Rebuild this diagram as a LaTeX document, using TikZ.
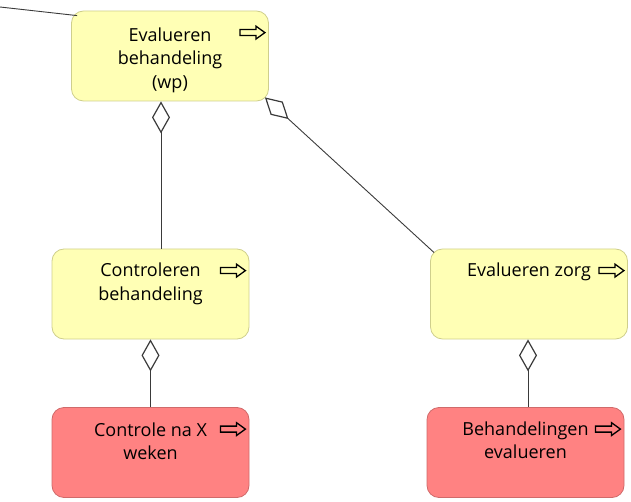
\documentclass[tikz,border=0pt]{standalone}
\usepackage{fontspec}
\setmainfont{Open Sans}
\usetikzlibrary{arrows.meta,calc}
\definecolor{bizfill}{HTML}{FFFFB5}
\definecolor{bizline}{HTML}{CFCF8C}
\definecolor{redfill}{HTML}{FF8282}
\definecolor{redline}{HTML}{D06A6A}
\definecolor{linegray}{HTML}{3A3A3A}
\begin{document}
\begin{tikzpicture}[x=1pt,y=-1pt,
  elembox/.style={rounded corners=12pt, minimum width=197pt, minimum height=90pt,
    inner sep=0pt, line width=0.8pt},
  yellowbox/.style={elembox, draw=bizline, fill=bizfill},
  redbox/.style={elembox, draw=redline, fill=redfill},
  boxtext/.style={anchor=north, align=center, inner sep=0pt,
    font=\fontsize{18}{23.5}\selectfont},
  conn/.style={draw=linegray, line width=0.9pt},
  agg/.style={conn, {Diamond[open, length=32pt, width=18pt, line width=1.2pt]}-},
  procicon/.pic={
    \draw[line width=1.3pt, line join=miter]
      (0,0) -- (-9,-6.5) -- (-9,-3) -- (-25,-3) -- (-25,3) -- (-9,3) -- (-9,6.5) -- cycle;
  }]
\useasboundingbox (0,0) rectangle (631,502);

% elements
\node[yellowbox] (top)  at (170,56)      {};
\node[yellowbox] (ctrl) at (150.5,294)   {};
\node[yellowbox] (zorg) at (529,294)     {};
\node[redbox]    (ctlx) at (150.5,452.5) {};
\node[redbox]    (beh)  at (525.5,452.5) {};

% names (first baseline about 30pt below the top edge)
\node[boxtext] (topt)  at ($(top.north)+(0,17)$)  {Evalueren\\behandeling\\(wp)};
\node[boxtext] (ctrlt) at ($(ctrl.north)+(0,14.5)$) {Controleren\\behandeling};
\node[boxtext] (zorgt) at ($(zorg.north)+(0,14.5)$) {Evalueren zorg};
\node[boxtext] (ctlxt) at ($(ctlx.north)+(0,15.5)$) {Controle na X\\weken};
\node[boxtext] (beht)  at ($(beh.north)+(0,14.5)$)  {Behandelingen\\evalueren};

% process icons
\foreach \b in {top,ctrl,zorg,ctlx,beh}
  \pic at ($(\b.north east)+(-4,22)$) {procicon};

% relations
\coordinate (ext) at (0,7);
\draw[conn] (ext) -- ($(top.north west)+(6,5)$);

\coordinate (a1) at ($(top.south)+(-9,0)$);
\draw[agg] (a1) -- (a1 |- ctrl.north);

\coordinate (d1) at ($(top.south east)+(-4,-4)$);
\coordinate (d2) at ($(zorg.north west)+(4,4)$);
\draw[agg] (d1) -- (d2);

\draw[agg] (ctrl.south) -- (ctrl.south |- ctlx.north);
\draw[agg] ($(zorg.south)+(-1,0)$) -- ($(zorg.south |- beh.north)+(-1,0)$);
\end{tikzpicture}
\end{document}
